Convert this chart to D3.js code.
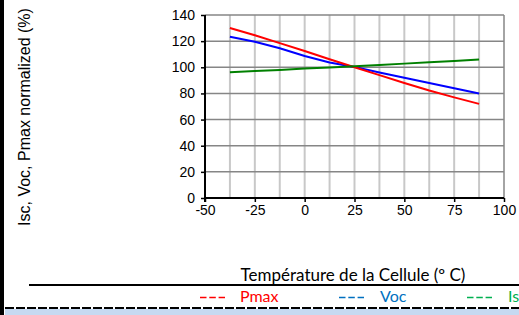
<!DOCTYPE html>
<html lang="fr">
<head>
    <meta charset="UTF-8">
    <title>Pmax Voc Isc</title>
    <style>
        body { margin: 0; background: #fff; }
        .tick-label { font-family: "Liberation Sans", Arial, sans-serif; font-size: 14px; fill: #000; }
        .calib { font-family: Lato, "Open Sans", sans-serif; font-size: 15px; }
    </style>
</head>
<body>
<script src="https://cdnjs.cloudflare.com/ajax/libs/d3/7.8.5/d3.min.js"></script>
<script>
    // data
    var temps = [-37.5, -25, -12.5, 0, 12.5, 25, 37.5, 50, 62.5, 75, 87.5];
    var pmax = [130, 124.5, 118.5, 112.5, 106.2, 100, 94, 88, 82.2, 77, 72];
    var voc  = [123.3, 119.6, 114.5, 108.6, 103.6, 100.3, 96, 92, 88, 84, 80];
    var isc  = [96.2, 97.1, 98, 99, 99.9, 100.8, 101.7, 102.8, 103.8, 104.8, 105.9];
    var xTicks = [-50, -25, 0, 25, 50, 75, 100];
    var yTicks = [0, 20, 40, 60, 80, 100, 120, 140];
    var xGrid = d3.range(-37.5, 100, 12.5);

    var width = 519, height = 315;
    var x0 = 205, x1 = 504, y0 = 198, y1 = 15;

    var svg = d3.select("body").append("svg")
        .attr("width", width)
        .attr("height", height);

    var x = d3.scaleLinear().domain([-50, 100]).range([x0, x1]);
    var y = d3.scaleLinear().domain([0, 140]).range([y0, y1]);

    /* grille verticale */
    svg.selectAll(".vgrid")
        .data(xGrid)
        .enter()
        .append("line")
        .attr("x1", function (d) { return x(d); })
        .attr("x2", function (d) { return x(d); })
        .attr("y1", y1)
        .attr("y2", y0)
        .attr("stroke", "#c8c8c8")
        .attr("stroke-width", 2);

    /* grille horizontale */
    svg.selectAll(".hgrid")
        .data(yTicks.slice(1))
        .enter()
        .append("line")
        .attr("x1", x0)
        .attr("x2", x1)
        .attr("y1", function (d) { return y(d); })
        .attr("y2", function (d) { return y(d); })
        .attr("stroke", "#868686")
        .attr("stroke-width", 1.5);

    svg.append("line")
        .attr("x1", x1).attr("x2", x1)
        .attr("y1", y1).attr("y2", y0)
        .attr("stroke", "#868686")
        .attr("stroke-width", 1.5);

    /* axes */
    var fmt = function (d) { return String(d); };
    var xAxis = d3.axisBottom(x).tickValues(xTicks).tickFormat(fmt).tickSize(4).tickPadding(3);
    var yAxis = d3.axisLeft(y).tickValues(yTicks).tickFormat(fmt).tickSize(4).tickPadding(6);

    var gx = svg.append("g").attr("transform", "translate(0," + y0 + ")").call(xAxis);
    var gy = svg.append("g").attr("transform", "translate(" + x0 + ",0)").call(yAxis);
    [gx, gy].forEach(function (g) {
        g.select(".domain").attr("stroke", "#000").attr("stroke-width", 2);
        g.selectAll(".tick line").attr("stroke", "#000").attr("stroke-width", 1.5);
        g.selectAll(".tick text").attr("class", "tick-label").attr("font-family", null).attr("font-size", null);
    });
    gx.select(".domain").attr("d", "M" + (x0 - 1) + ",0H" + x1);
    gy.select(".domain").attr("d", "M0," + y1 + "V" + (y0 + 4));

    /* courbes */
    var series = [
        {vals: voc, color: "#0000ff"},
        {vals: pmax, color: "#ff0000"},
        {vals: isc, color: "#008000"}
    ];
    var line = d3.line()
        .x(function (d, i) { return x(temps[i]); })
        .y(function (d) { return y(d); });

    svg.selectAll(".serie")
        .data(series)
        .enter()
        .append("path")
        .attr("d", function (s) { return line(s.vals); })
        .attr("fill", "none")
        .attr("stroke", function (s) { return s.color; })
        .attr("stroke-width", 2);

    /* titres */
    svg.append("text")
        .attr("class", "tick-label")
        .attr("transform", "translate(30,117) rotate(-90)")
        .attr("text-anchor", "middle")
        .style("font-size", "16px")
        .text("Isc, Voc, Pmax normalized (%)");

    svg.append("text")
        .attr("class", "calib")
        .attr("x", 353)
        .attr("y", 281)
        .attr("text-anchor", "middle")
        .style("font-size", "17px")
        .text("Température de la Cellule (º C)");

    /* cadre bas */
    svg.append("rect")
        .attr("x", 0).attr("y", 0)
        .attr("width", 4).attr("height", height)
        .attr("fill", "#000");

    svg.append("line")
        .attr("x1", 29).attr("x2", width)
        .attr("y1", 285).attr("y2", 285)
        .attr("stroke", "#000")
        .attr("stroke-width", 2);

    svg.append("rect")
        .attr("x", 5).attr("y", 309)
        .attr("width", width - 5).attr("height", 6)
        .attr("fill", "#c6d9f1");

    svg.append("line")
        .attr("x1", 5).attr("x2", width)
        .attr("y1", 308).attr("y2", 308)
        .attr("stroke", "#000")
        .attr("stroke-width", 2)
        .attr("stroke-dasharray", "9,2");

    /* légende */
    var legend = [
        {name: "Pmax", color: "#ff0000", xd: 200, xt: 240},
        {name: "Voc", color: "#0070c0", xd: 339, xt: 380},
        {name: "Is", color: "#00b050", xd: 467, xt: 508}
    ];
    var lg = svg.selectAll(".leg")
        .data(legend)
        .enter()
        .append("g");
    lg.append("line")
        .attr("x1", function (d) { return d.xd; })
        .attr("x2", function (d) { return d.xd + 25; })
        .attr("y1", 297.5)
        .attr("y2", 297.5)
        .attr("stroke", function (d) { return d.color; })
        .attr("stroke-width", 1.3)
        .attr("stroke-dasharray", "6.5,2.8");
    lg.append("text")
        .attr("class", "calib")
        .attr("x", function (d) { return d.xt; })
        .attr("y", 302)
        .attr("fill", function (d) { return d.color; })
        .style("font-size", "16px")
        .text(function (d) { return d.name; });
</script>
</body>
</html>
